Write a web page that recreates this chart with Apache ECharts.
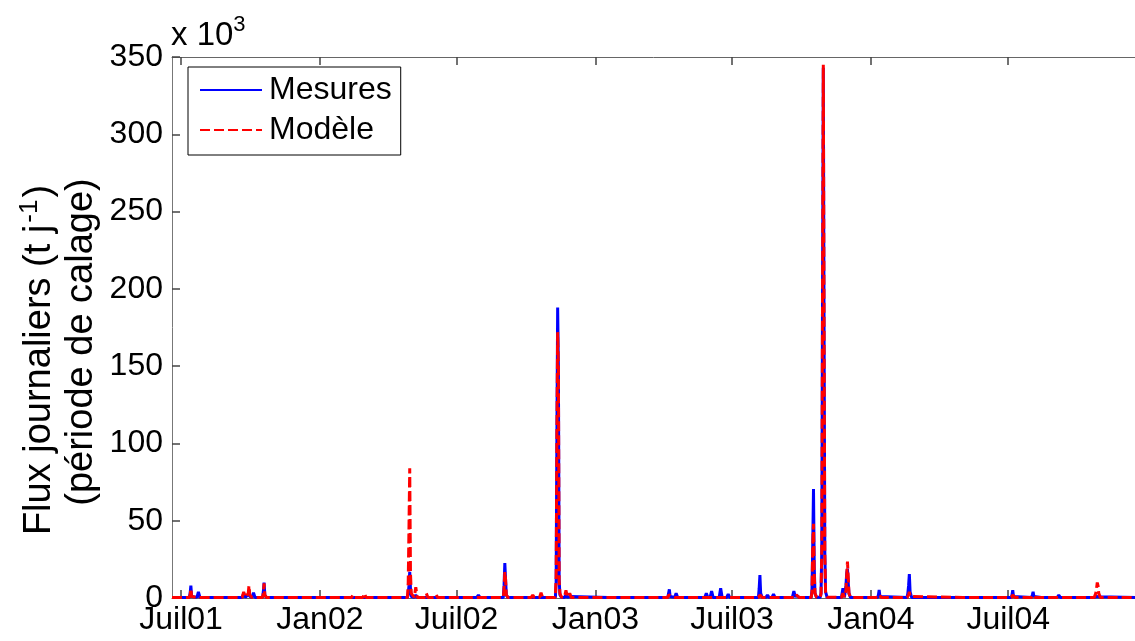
<!DOCTYPE html>
<html>
<head>
<meta charset="utf-8">
<script src="https://cdn.jsdelivr.net/npm/echarts@6/dist/echarts.min.js"></script>
<style>
html,body{margin:0;padding:0;background:#fff;}
#chart{width:1135px;height:641px;}
</style>
</head>
<body>
<div id="chart"></div>
<script>
// Daily flux values in 10^3 t/j (baseline samples + flood events)
const dates = [
'2001-06-19','2001-07-12','2001-07-13','2001-07-14','2001-07-15','2001-07-22','2001-07-24','2001-07-26',
'2001-09-20','2001-09-22','2001-09-24','2001-09-28','2001-09-29','2001-09-30','2001-10-03','2001-10-05','2001-10-07',
'2001-10-17','2001-10-18','2001-10-19','2001-10-20','2001-10-22',
'2002-02-12','2002-02-14','2002-02-16','2002-02-27','2002-03-01','2002-03-03',
'2002-04-27','2002-04-28','2002-04-29','2002-04-30','2002-05-01','2002-05-02','2002-05-06','2002-05-08','2002-05-10',
'2002-05-20','2002-05-22','2002-05-24','2002-06-02','2002-06-04','2002-06-06',
'2002-07-28','2002-07-30','2002-08-01',
'2002-09-01','2002-09-02','2002-09-03','2002-09-04','2002-09-05','2002-09-07',
'2002-10-08','2002-10-10','2002-10-12','2002-10-19','2002-10-21','2002-10-23',
'2002-11-09','2002-11-10','2002-11-11','2002-11-12','2002-11-13','2002-11-14','2002-11-15','2002-11-17',
'2002-11-21','2002-11-23','2002-11-25','2002-11-28','2002-11-30',
'2003-01-18','2003-01-20','2003-01-22','2003-01-31','2003-02-02','2003-02-04',
'2003-04-07','2003-04-08','2003-04-09','2003-04-10','2003-04-16','2003-04-18','2003-04-20',
'2003-05-26','2003-05-28','2003-05-30','2003-06-02','2003-06-04','2003-06-06',
'2003-06-14','2003-06-16','2003-06-18','2003-06-24','2003-06-26','2003-06-28',
'2003-08-05','2003-08-06','2003-08-07','2003-08-08','2003-08-10','2003-08-15','2003-08-17','2003-08-19',
'2003-08-23','2003-08-25','2003-08-27',
'2003-09-19','2003-09-21','2003-09-23','2003-09-24','2003-09-26','2003-09-28',
'2003-10-14','2003-10-15','2003-10-16','2003-10-17','2003-10-18','2003-10-19','2003-10-21',
'2003-10-26','2003-10-27','2003-10-28','2003-10-29','2003-10-30','2003-10-31','2003-11-01','2003-11-02','2003-11-04',
'2003-11-23','2003-11-25','2003-11-27','2003-11-28','2003-11-29','2003-11-30','2003-12-01','2003-12-02','2003-12-03','2003-12-05',
'2004-01-10','2004-01-11','2004-01-12','2004-01-13','2004-01-15',
'2004-02-18','2004-02-19','2004-02-20','2004-02-21','2004-02-22','2004-02-24',
'2004-05-02','2004-05-04','2004-05-06',
'2004-07-05','2004-07-06','2004-07-07','2004-07-08','2004-07-10',
'2004-08-01','2004-08-02','2004-08-03','2004-08-04','2004-08-06',
'2004-08-14','2004-08-16','2004-08-18','2004-09-04','2004-09-06','2004-09-08',
'2004-10-23','2004-10-25','2004-10-26','2004-10-27','2004-10-28','2004-10-29','2004-10-31','2004-12-16'
];
const mesures = [
0.4,0.4,3,8,1,0.4,4,0.4,
0.4,3,0.5,2,5,1,0.4,3.5,0.4,
0.4,4,10,2,0.4,
0.4,1,0.4,0.4,1.5,0.4,
0.4,3,8,17,6,1,0.4,2,0.4,
0.4,1,0.4,0.4,0.8,0.4,
0.4,2,0.4,
0.4,8,22.6,12,2,0.4,
0.4,0.8,0.4,0.4,1,0.4,
0.4,10,105,188,149,12,2,0.5,
0.4,2,0.4,1,0.4,
0.4,1.3,0.4,0.4,1.5,0.4,
0.4,3,5.6,1,0.4,3,0.4,
0.4,3,0.4,0.4,4.5,0.4,
0.4,6.3,0.4,0.4,2.5,0.4,
0.4,6,14.9,3,0.4,0.4,2,0.4,
0.4,2.5,0.4,
0.4,4.5,0.5,2,2,0.4,
0.4,5,35,70.5,20,3,0.5,
0.5,3,32,203,343,176,30,4,0.5,
0.4,6.3,0.5,1,8,16,19,10,3,0.4,
0.4,2,5.2,1,0.4,
0.4,3,8,15.5,4,0.4,
0.4,1.5,0.4,
0.4,2,5,1,0.4,
0.4,2,4,1,0.4,
0.4,0.8,0.4,0.4,1.8,0.4,
0.4,1,1,1.2,1,0.8,0.4,0.4
];
const modele = [
0.4,0.4,2,6,1,0.4,1.5,0.4,
0.4,4,0.5,3,8,2,0.4,1.5,0.4,
0.4,3,9.5,2,0.4,
0.4,2,0.4,0.4,3,0.4,
0.4,10,46,84,16,3,0.4,7,0.4,
0.4,3,0.4,0.4,2,0.4,
0.4,1,0.4,
0.4,6,17,12,2,0.4,
0.4,2,0.4,0.4,3.5,0.4,
0.4,14,105,172,147,11,3,0.5,
0.4,5,0.4,3,0.4,
0.4,0.6,0.4,0.4,1.5,0.4,
0.4,2,3,1,0.4,1,0.4,
0.4,1,0.4,0.4,1,0.4,
0.4,1.5,0.4,0.4,1,0.4,
0.4,1,2,1,0.4,0.4,0.8,0.4,
0.4,1,0.4,
0.4,1.5,0.5,2,3,0.4,
0.4,4,34,48,15,3,0.5,
0.5,3,32,203,345,176,28,4,0.5,
0.4,3,0.5,1,5,15,23.5,14,3,0.4,
0.4,1,2,0.8,0.4,
0.4,1,2,4,1,0.4,
0.4,0.6,0.4,
0.4,1,2,0.8,0.4,
0.4,1,2,0.8,0.4,
0.4,1.5,0.4,0.4,0.8,0.4,
0.4,3,6,10,8,3,0.4,0.4
];
const xRange = ['2001-06-19', '2004-12-16'];
const tickDates = ['2001-07-01','2002-01-01','2002-07-01','2003-01-01','2003-07-01','2004-01-01','2004-07-01'];
const tickLabels = ['Juil01','Jan02','Juil02','Jan03','Juil03','Jan04','Juil04'];
const seriesNames = ['Mesures','Modèle'];

const parse = (s) => Date.UTC(+s.slice(0,4), +s.slice(5,7) - 1, +s.slice(8,10));
const tickTimes = tickDates.map(parse);
const FONT = 'Liberation Sans, Arial, sans-serif';

const chart = echarts.init(document.getElementById('chart'));
const fmtX = (v) => { const i = tickTimes.indexOf(+v); return i >= 0 ? tickLabels[i] : ''; };

const xCommon = {
  type: 'value', min: parse(xRange[0]), max: parse(xRange[1]),
  splitLine: { show: false }
};

chart.setOption({
  animation: false,
  backgroundColor: '#fff',
  grid: { left: 172, top: 57, right: 0, bottom: 43, containLabel: false },
  xAxis: [Object.assign({}, xCommon, {
    position: 'bottom',
    axisLine: { show: true, onZero: false, lineStyle: { color: '#666', width: 1 } },
    axisTick: { show: true, inside: true, length: 8, customValues: tickTimes, lineStyle: { color: '#444', width: 1.5 } },
    axisLabel: { show: true, customValues: tickTimes, formatter: fmtX, fontSize: 32, fontFamily: FONT, color: '#000', margin: 6, hideOverlap: false }
  }), Object.assign({}, xCommon, {
    position: 'top',
    axisLine: { show: true, onZero: false, lineStyle: { color: '#666', width: 1 } },
    axisTick: { show: true, inside: true, length: 8, customValues: tickTimes, lineStyle: { color: '#444', width: 1.5 } },
    axisLabel: { show: false }
  })],
  yAxis: {
    type: 'value', min: 0, max: 350, interval: 50,
    axisLine: { show: true, lineStyle: { color: '#777', width: 1 } },
    axisTick: { show: true, inside: true, length: 8, lineStyle: { color: '#444', width: 1.5 } },
    axisLabel: { fontSize: 32, fontFamily: FONT, color: '#000', margin: 9 },
    splitLine: { show: false }
  },
  legend: {
    left: 188, top: 67, orient: 'vertical',
    backgroundColor: '#fff', borderColor: '#000', borderWidth: 1,
    padding: [7, 9, 9, 11], itemGap: 8, itemWidth: 62, itemHeight: 14,
    itemStyle: { opacity: 0 },
    textStyle: { fontSize: 32, fontFamily: FONT, color: '#000', padding: [0, 0, 0, 2] },
    data: seriesNames
  },
  graphic: [
    { type: 'text', left: 171, top: 14, style: { text: '{a|x 10}{s|3}', rich: { a: { fontSize: 33, fontFamily: FONT, fill: '#000', verticalAlign: 'bottom', lineHeight: 38 }, s: { fontSize: 22, fontFamily: FONT, fill: '#000', verticalAlign: 'top', lineHeight: 38, padding: [0, 0, 18, 0] } } } },
    { type: 'text', x: 40, y: 360, rotation: Math.PI / 2, style: { text: '{a|Flux journaliers (t j}{s|-1}{a|)}', align: 'center', verticalAlign: 'middle', rich: { a: { fontSize: 38, fontFamily: FONT, fill: '#000', lineHeight: 42 }, s: { fontSize: 26, fontFamily: FONT, fill: '#000', lineHeight: 42, padding: [0, 2, 20, 2] } } } },
    { type: 'text', x: 82, y: 342, rotation: Math.PI / 2, style: { text: '(période de calage)', align: 'center', verticalAlign: 'middle', fontSize: 38, fontFamily: FONT, fill: '#000' } }
  ],
  series: [{
    name: seriesNames[0], type: 'line', xAxisIndex: 0, symbol: 'none', showSymbol: false,
    data: dates.map((d, i) => [parse(d), mesures[i]]),
    lineStyle: { color: '#0000ff', width: 3 }, itemStyle: { color: '#0000ff' }, z: 2
  }, {
    name: seriesNames[1], type: 'line', xAxisIndex: 0, symbol: 'none', showSymbol: false,
    data: dates.map((d, i) => [parse(d), modele[i]]),
    lineStyle: { color: '#ff0000', width: 3, type: [10, 4] }, itemStyle: { color: '#ff0000' }, z: 3
  }]
});
</script>
</body>
</html>
